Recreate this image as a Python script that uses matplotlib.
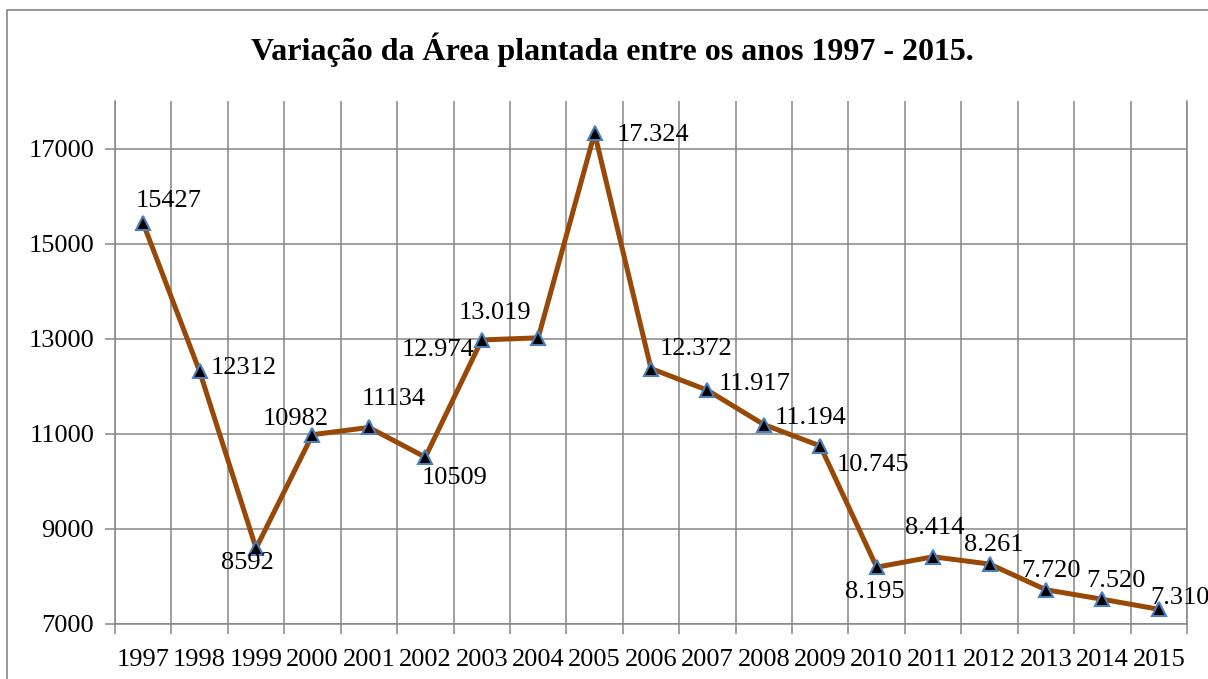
import numpy as np
import matplotlib
matplotlib.use('Agg')
import matplotlib.pyplot as plt
from matplotlib.patches import Rectangle

# data
years = [str(y) for y in range(1997, 2016)]
area = [15427, 12312, 8592, 10982, 11134, 10509, 12974, 13019, 17324,
        12372, 11917, 11194, 10745, 8195, 8414, 8261, 7720, 7520, 7310]
labels = ['15427', '12312', '8592', '10982', '11134', '10509', '12.974',
          '13.019', '17.324', '12.372', '11.917', '11.194', '10.745',
          '8.195', '8.414', '8.261', '7.720', '7.520', '7.310']
y_ticks = [7000, 9000, 11000, 13000, 15000, 17000]

# hand placed label offsets (pixels from the point)
offsets = [(25, 22), (44, 3), (-9, -15), (-17, 16), (25, 28), (29, -21),
           (-44, -10), (-43, 25), (58, -2), (45, 20), (47, 6), (47, 7),
           (53, -19), (-2, -25), (2, 29), (4, 19), (5, 19), (14, 18),
           (21, 11)]

W, H = 1208, 679
grey = '#868686'
plt.rcParams['font.family'] = ['Liberation Serif', 'DejaVu Serif']

fig = plt.figure(figsize=(W / 100, H / 100), dpi=100)
ax = fig.add_axes([115 / W, 1 - 624 / H, (1187 - 115) / W, (624 - 101) / H])

# outer chart frame (runs off the right and bottom edges)
fig.patches.append(Rectangle((7 / W, -0.1), 1.2, 1 - 10 / H + 0.1,
                             transform=fig.transFigure, fill=False,
                             edgecolor=grey, lw=1.2))

x = np.arange(len(years))
ax.plot(x, area, color='#984807', lw=3.6, marker='^', markersize=10,
        markerfacecolor='black', markeredgecolor='#4A7EBB',
        markeredgewidth=1.5, zorder=3)

for xi, v, lab, (dx, dy) in zip(x, area, labels, offsets):
    ax.annotate(lab, (xi, v), xytext=(dx, dy), textcoords='offset pixels',
                ha='center', va='center', fontsize=19, annotation_clip=False)

ax.set_xlim(-0.5, len(years) - 0.5)
ax.set_ylim(7000, 18000)
ax.set_yticks(y_ticks)
ax.set_xticks(x)
ax.set_xticklabels(years)
ax.set_xticks(np.arange(len(years) + 1) - 0.5, minor=True)

ax.grid(True, axis='y', which='major', color=grey, lw=1.1)
ax.grid(True, axis='x', which='minor', color=grey, lw=1.1)
ax.set_axisbelow(True)

ax.tick_params(axis='x', which='major', length=0, pad=18, labelsize=19)
ax.tick_params(axis='x', which='minor', length=7, width=1.1, color=grey,
               direction='out')
ax.tick_params(axis='y', length=7, width=1.1, color=grey, pad=8,
               labelsize=19)

for side in ['left', 'bottom', 'right']:
    ax.spines[side].set_color(grey)
    ax.spines[side].set_linewidth(1.1)
ax.spines['top'].set_visible(False)

fig.text(612 / W, 1 - 50 / H,
         'Variação da Área plantada entre os anos 1997 - 2015.',
         ha='center', va='center', fontsize=23, fontweight='bold')

fig.savefig('out.png', dpi=100)
